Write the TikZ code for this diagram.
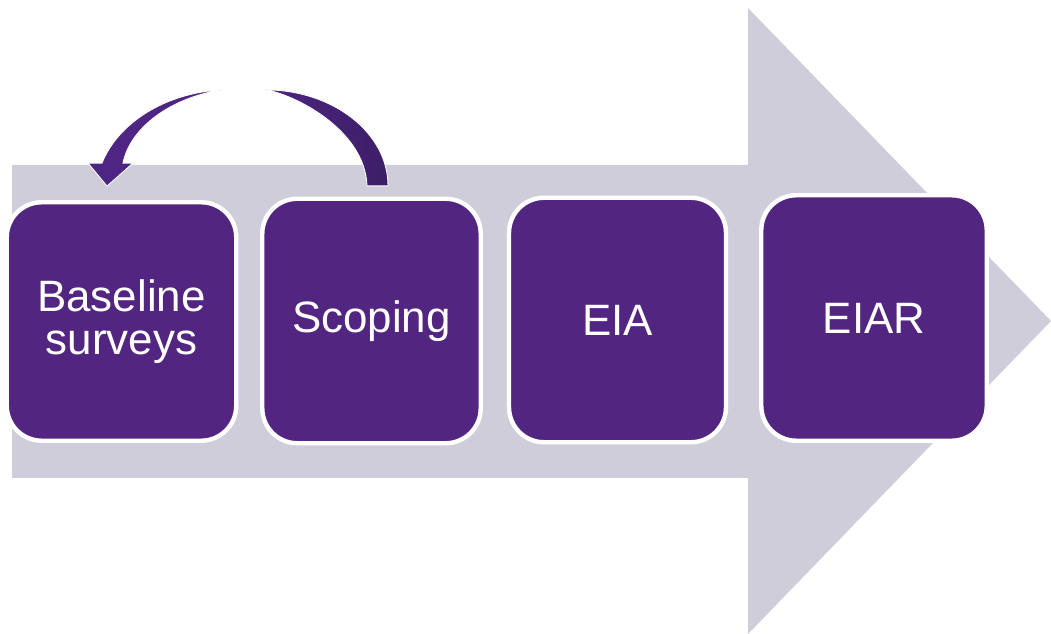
\documentclass[tikz,border=0pt]{standalone}
\usepackage{fontspec}
\setmainfont{Liberation Sans}
\usetikzlibrary{calc}
\definecolor{boxpurple}{RGB}{82,38,128}
\definecolor{arcpurple}{RGB}{78,37,130}
\definecolor{arcdark}{RGB}{60,30,102}
\definecolor{flowgrey}{RGB}{208,205,218}
\tikzset{stage/.style={rounded corners=0.7cm, fill=boxpurple, draw=white, line width=2.5pt,
  text=white, align=center, inner sep=0pt, minimum width=4.35cm, minimum height=4.89cm,
  font=\fontsize{25}{24.5}\selectfont}}

\begin{document}
\begin{tikzpicture}[x=0.02cm, y=-0.02cm]
 \useasboundingbox (0,0) rectangle (1051,634);

 % big arrow behind the stages
 \fill[flowgrey] (12,165) -- (748,165) -- (748,8) -- (1051,321) -- (748,634)
   -- (748,478) -- (12,478) -- cycle;

 \node[stage, minimum width=4.59cm, minimum height=4.77cm] (baseline) at (121.5,321.5) {Baseline\\surveys};
 \node[stage, minimum width=4.37cm] (scoping) at (371.5,321) {Scoping};
 \node[stage, minimum width=4.34cm] (eia)     at (617.5,320) {EIA};
 \node[stage, minimum width=4.51cm, minimum height=4.91cm] (eiar) at (874,318) {EIAR};

 % loop back from scoping to baseline
 \coordinate (top) at ($(baseline.north)!0.5!(scoping.north)$);
 \coordinate (tr)  at ($(top)+(18.5,-108.5)$);
 \coordinate (tl)  at ($(top)+(-24.5,-108.5)$);
 \coordinate (ro)  at ($(scoping.north)+(16.5,-10.75)$);
 \coordinate (ri)  at ($(scoping.north)+(-4.5,-10.75)$);
 \coordinate (tip) at ($(baseline.north)+(-14.5,-14)$);

 \shade[left color=arcpurple, right color=arcdark, draw=white, line width=0.5pt]
   (ro) .. controls ($(ro)+(0,-53)$) and ($(tr)+(68,0)$) .. (tr)
        .. controls ($(tr)+(25,3)$) and ($(ri)+(-2,-58)$) .. (ri) -- cycle;
 \fill[arcpurple, draw=white, line width=0.5pt]
   ($(tip)+(-5,-23)$) -- ($(tip)+(-19,-23)$) -- (tip) -- ($(tip)+(26,-23)$)
   -- ($(tip)+(16,-23)$) .. controls ($(tip)+(23,-58)$) and ($(tl)+(-52,8)$) .. (tl)
   .. controls ($(tl)+(-57,3)$) and ($(tip)+(11,-63)$) .. ($(tip)+(-5,-23)$) -- cycle;
\end{tikzpicture}
\end{document}
